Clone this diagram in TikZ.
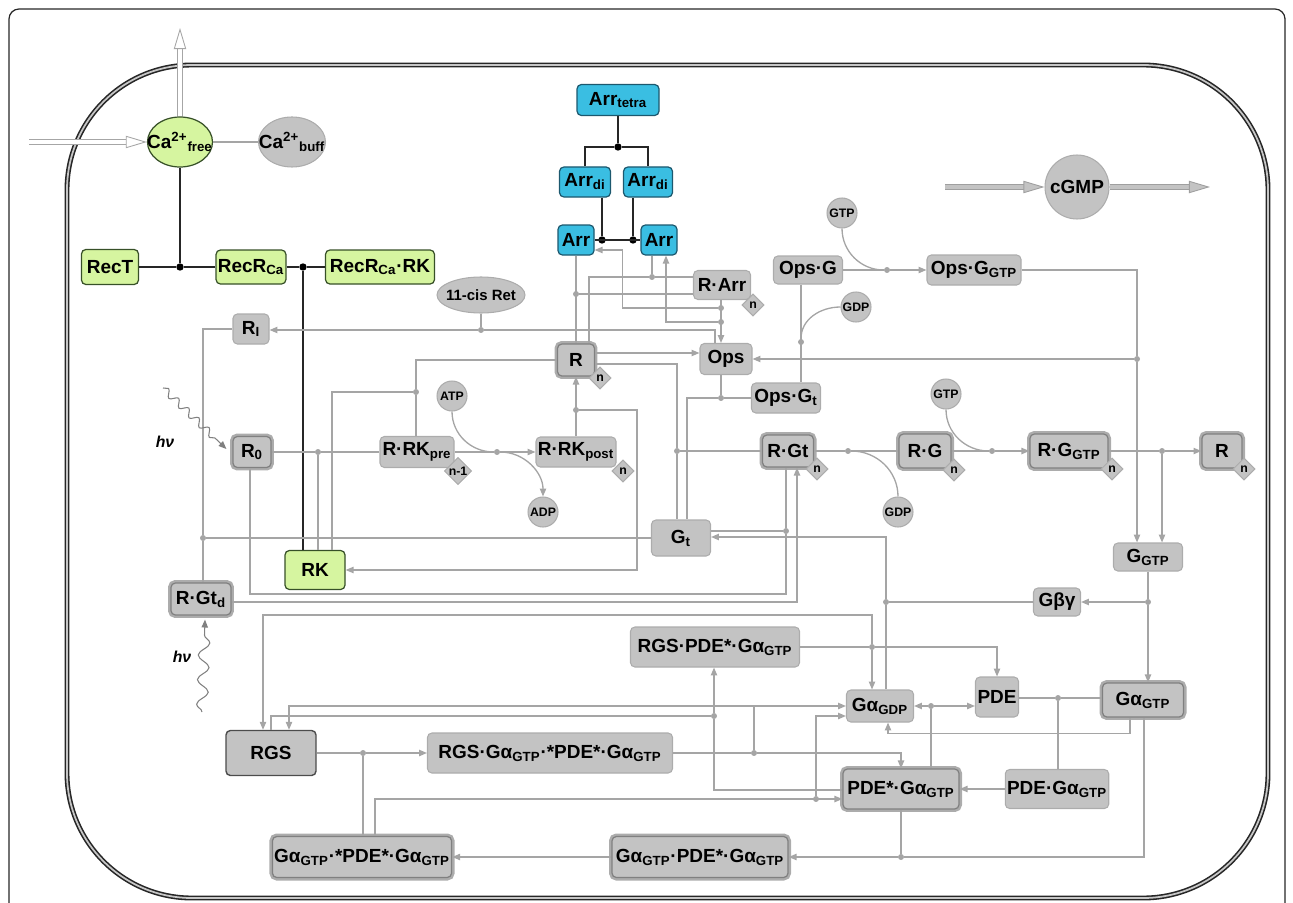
\documentclass[tikz,border=0pt]{standalone}
\usepackage{fontspec}
\setmainfont{Liberation Sans}
\usepackage{xcolor}
\usepackage{tikz}
\usetikzlibrary{shapes.geometric, arrows.meta, positioning, calc, decorations.pathmorphing}
\definecolor{recgreen}{RGB}{214,245,160}
\definecolor{recedge}{RGB}{55,80,40}
\definecolor{arrblue}{RGB}{58,190,226}
\definecolor{arredge}{RGB}{28,88,110}
\definecolor{boxgray}{RGB}{195,195,195}
\definecolor{edgegray}{RGB}{172,172,172}
\definecolor{rimgray}{RGB}{128,128,128}
\definecolor{linegray}{RGB}{165,165,165}
\tikzset{
    lbl/.style={font=\bfseries\fontsize{10.8}{12}\selectfont, text=black},
    wh/.style 2 args={minimum width=#1*0.02cm, minimum height=#2*0.02cm},
    gbox/.style={rectangle, rounded corners=2.5pt, fill=boxgray, draw=edgegray, line width=0.6pt, inner sep=1pt, lbl},
    dbox/.style={gbox, draw=rimgray, line width=0.7pt, preaction={draw=edgegray, line width=3.4pt}},
    tbox/.style={gbox, fill=recgreen, draw=recedge, line width=0.7pt},
    abox/.style={gbox, fill=arrblue, draw=arredge, line width=0.7pt},
    rgsbox/.style={gbox, draw=black!70, line width=0.8pt},
    tell/.style={ellipse, fill=recgreen, draw=recedge, line width=0.7pt, inner sep=0pt},
    gell/.style={ellipse, fill=boxgray, draw=edgegray, line width=0.6pt, inner sep=0pt},
    ball/.style={circle, fill=boxgray, draw=edgegray, line width=0.6pt, inner sep=0pt, minimum size=0.6cm, font=\bfseries\fontsize{7}{8}\selectfont},
    ndia/.style={diamond, fill=boxgray, draw=edgegray, line width=0.6pt, inner sep=0pt, minimum size=0.44cm, font=\bfseries\fontsize{7}{8}\selectfont},
    link/.style={draw=linegray, line width=0.75pt},
    arr/.style={link, -{Triangle[length=4.5pt, width=3.6pt]}},
    bline/.style={draw=black!85, line width=0.8pt},
    jdot/.style={circle, fill=linegray, inner sep=0pt, minimum size=3.4pt},
    bdot/.style={circle, fill=black, inner sep=0pt, minimum size=4.2pt},
    hollow/.style={draw=gray!70, line width=0.5pt, double=white, double distance=2.4pt, -{Triangle[open, length=12pt, width=7pt]}},
    fat/.style={draw=gray!75, line width=0.5pt, double=boxgray, double distance=2.4pt, -{Triangle[length=12pt, width=7pt, fill=boxgray]}},
    light/.style={draw=gray, line width=0.6pt, -{Triangle[length=4.5pt, width=3.6pt]}, decorate}
}

\begin{document}
\begin{tikzpicture}[x=0.02cm, y=-0.02cm]
    \useasboundingbox (0,0) rectangle (1293,902);

    % Frame and membrane
    \draw[black!85, line width=0.7pt, rounded corners=0.2cm] (9,910) -- (9,9) -- (1285,9) -- (1285,910);
    \draw[black!85, line width=0.9pt, double=gray!45, double distance=1pt, rounded corners=2.5cm] (67,65) rectangle (1268,898);

    % Calcium and recoverin
    \node[tell, wh={65}{50}, label={[lbl]center:Ca\textsuperscript{2+}\textsubscript{free}}] (caf) at (180,142) {};
    \node[gell, wh={67}{50}, label={[lbl]center:Ca\textsuperscript{2+}\textsubscript{buff}}] (cab) at (292,142) {};
    \coordinate (cain) at (29,142);
    \coordinate (caout) at (180,28);
    \node[tbox, wh={57}{35}] (rect) at (110,267) {RecT};
    \node[tbox, wh={69}{34}] (recr) at (251,267) {RecR\textsubscript{Ca}};
    \node[tbox, wh={109}{34}] (recrk) at (380,267) {RecR\textsubscript{Ca}·RK};
    \node[tbox, wh={60}{39}] (rk) at (315,570) {RK};
    \node[bdot] (cj1) at (180,267) {};
    \node[bdot] (cj2) at (303,267) {};

    % Arrestin
    \node[abox, wh={82}{31}] (arrt) at (618,100) {Arr\textsubscript{tetra}};
    \node[abox, wh={51}{30}] (ardl) at (585,182) {Arr\textsubscript{di}};
    \node[abox, wh={49}{30}] (ardr) at (648,182) {Arr\textsubscript{di}};
    \node[abox, wh={36}{30}] (arrL) at (576,240) {Arr};
    \node[abox, wh={36}{30}] (arrR) at (659,240) {Arr};
    \node[bdot] (bj0) at (618,147) {};
    \node[bdot] (bj1) at (602,240) {};
    \node[bdot] (bj2) at (633,240) {};

    % cGMP
    \node[ball, lbl, minimum size=1.28cm] (cgmp) at (1077,187) {cGMP};
    \coordinate (cgin) at (945,187);
    \coordinate (cgout) at (1210,187);

    % Opsin branch
    \node[gell, wh={88}{36}, label={[font=\bfseries\fontsize{8.5}{10}\selectfont]center:11-cis Ret}] (ret) at (481,295) {};
    \node[gbox, wh={57}{29}] (rarr) at (722,285) {R·Arr};
    \node[ndia] (rarrn) at (753,305) {n};
    \node[gbox, wh={69}{28}] (opsg) at (808,270) {Ops·G};
    \node[ball] (gtp1) at (842,213) {GTP};
    \node[ball] (gdp1) at (856,307) {GDP};
    \node[gbox, wh={94}{30}] (opsggtp) at (974,270) {Ops·G\textsubscript{GTP}};
    \node[gbox, wh={52}{31}] (ops) at (726,359) {Ops};
    \node[gbox, wh={69}{30}] (opsgt) at (786,398) {Ops·G\textsubscript{t}};

    % Rhodopsin states
    \node[gbox, wh={36}{30}] (ri) at (251,329) {R\textsubscript{I}};
    \node[dbox, wh={38}{31}] (r0) at (252,452) {R\textsubscript{0}};
    \node[gbox, wh={74}{31}] (rrkpre) at (417,452) {R·RK\textsubscript{pre}};
    \node[ndia, minimum size=0.54cm] (rrkpren) at (458,471) {n-1};
    \node[gbox, wh={80}{30}] (rrkpost) at (576,452) {R·RK\textsubscript{post}};
    \node[ndia] (rrkpostn) at (623,471) {n};
    \node[ball] (atp) at (452,396) {ATP};
    \node[ball] (adp) at (543,512) {ADP};
    \node[dbox, wh={37}{32}] (r) at (576,360) {R};
    \node[ndia] (rnn) at (600,378) {n};
    \node[gbox, wh={59}{36}] (gt) at (681,538) {G\textsubscript{t}};
    \node[dbox, wh={51}{32}] (rgt) at (788,451) {R·Gt};
    \node[ndia] (rgtn) at (817,469) {n};
    \node[dbox, wh={52}{34}] (rg) at (925,451) {R·G};
    \node[ndia] (rgn) at (954,470) {n};
    \node[ball] (gtp2) at (946,394) {GTP};
    \node[ball] (gdp2) at (898,512) {GDP};
    \node[dbox, wh={78}{34}] (rggtp) at (1069,451) {R·G\textsubscript{GTP}};
    \node[ndia] (rggtpn) at (1112,469) {n};
    \node[dbox, wh={40}{34}] (rn) at (1222,451) {R};
    \node[ndia] (rnn2) at (1244,469) {n};
    \node[gbox, wh={69}{28}] (ggtp) at (1148,557) {G\textsubscript{GTP}};
    \node[gbox, wh={47}{28}] (gbg) at (1057,602) {Gβγ};
    \node[dbox, wh={60}{32}] (rgtd) at (201,599) {R·Gt\textsubscript{d}};
    \node[font=\bfseries\itshape\fontsize{9}{10}\selectfont] (hv1) at (165,442) {hν};
    \node[font=\bfseries\itshape\fontsize{9}{10}\selectfont] (hv2) at (182,657) {hν};
    \coordinate (hv1a) at (163,388);
    \coordinate (hv2a) at (202,712);

    % Transducin / PDE / RGS
    \node[gbox, wh={67}{32}] (gagdp) at (880,706) {Gα\textsubscript{GDP}};
    \node[gbox, wh={43}{40}] (pde) at (997,697) {PDE};
    \node[dbox, wh={81}{34}] (gagtp) at (1143,700) {Gα\textsubscript{GTP}};
    \node[gbox, wh={103}{39}] (pdega) at (1057,789) {PDE·Gα\textsubscript{GTP}};
    \node[dbox, wh={116}{40}] (pdesga) at (901,789) {PDE*·Gα\textsubscript{GTP}};
    \node[dbox, wh={176}{41}] (gpg) at (700,857) {Gα\textsubscript{GTP}·PDE*·Gα\textsubscript{GTP}};
    \node[dbox, wh={176}{41}] (gspg) at (362,857) {Gα\textsubscript{GTP}·*PDE*·Gα\textsubscript{GTP}};
    \node[rgsbox, wh={90}{45}] (rgs) at (271,753) {RGS};
    \node[gbox, wh={245}{40}] (rgsg) at (550,753) {RGS·Gα\textsubscript{GTP}·*PDE*·Gα\textsubscript{GTP}};
    \node[gbox, wh={169}{40}] (rgsp) at (715,647) {RGS·PDE*·Gα\textsubscript{GTP}};

    % Junctions
    \node[jdot] (j1) at (887,270) {};
    \node[jdot] (j2) at (1137,359) {};
    \node[jdot] (j3) at (801,342) {};
    \node[jdot] (j4) at (721,398) {};
    \node[jdot] (j5) at (677,451) {};
    \node[jdot] (j6) at (721,308) {};
    \node[jdot] (j7) at (721,322) {};
    \node[jdot] (j8) at (652,277) {};
    \node[jdot] (j9) at (576,294) {};
    \node[jdot] (j10) at (481,330) {};
    \node[jdot] (j11) at (203,538) {};
    \node[jdot] (j12) at (318,452) {};
    \node[jdot] (j13) at (416,392) {};
    \node[jdot] (j14) at (497,452) {};
    \node[jdot] (j15) at (576,410) {};
    \node[jdot] (j16) at (786,531) {};
    \node[jdot] (j17) at (848,451) {};
    \node[jdot] (j18) at (992,451) {};
    \node[jdot] (j19) at (1162,451) {};
    \node[jdot] (j20) at (1148,602) {};
    \node[jdot] (j21) at (886,602) {};
    \node[jdot] (j22) at (872,647) {};
    \node[jdot] (j23) at (363,753) {};
    \node[jdot] (j24) at (816,799) {};
    \node[jdot] (j25) at (754,753) {};
    \node[jdot] (j26) at (714,716) {};
    \node[jdot] (j27) at (901,857) {};
    \node[jdot] (j28) at (1058,698) {};
    \node[jdot] (j29) at (931,706) {};

    % Calcium links
    \draw[hollow] (cain) -- (caf);
    \draw[hollow] (caf) -- (caout);
    \draw[link] (caf) -- (cab);
    \draw[bline] (caf) -- (cj1);
    \draw[bline] (rect) -- (cj1) -- (recr);
    \draw[bline] (recr) -- (cj2) -- (recrk);
    \draw[bline] (cj2) -- (cj2 |- rk.north);

    % Arrestin links
    \draw[bline] (arrt) -- (bj0);
    \draw[bline] (ardl.north) |- (bj0) -| (ardr.north);
    \draw[bline] (ardl.south -| bj1) -- (bj1);
    \draw[bline] (ardr.south -| bj2) -- (bj2);
    \draw[bline] (arrL) -- (arrR);

    % cGMP flux
    \draw[fat] (cgin) -- (cgmp);
    \draw[fat] (cgmp) -- (cgout);

    % Opsin links
    \draw[link] (opsg) -- (j1);
    \draw[arr] (j1) -- (opsggtp);
    \draw[link] (gtp1.south) to[out=-90, in=180] (j1);
    \draw[link] (opsggtp.east) -| (j2);
    \draw[arr] (j2) -- (ops);
    \draw[arr] (j2) -- (j2 |- ggtp.north);
    \draw[link] (opsg.south -| j3) -- (opsgt.north -| j3);
    \draw[link] (gdp1.west) to[out=180, in=90] (j3);
    \draw[link] (ops.south -| j4) -- (j4) -- (opsgt);
    \draw[link] (j4) -| ($(gt.north)+(6,0)$);
    \draw[arr] ($(r.east)+(0,-7)$) -- ($(ops.west)+(0,-6)$);
    \draw[link] ($(r.east)+(0,4)$) -| (j5) -- ($(gt.north)+(-4,0)$);
    \draw[link] (j5) -- (rgt);

    % Arrestin binding
    \draw[arr] (rarr.south -| j6) -- (ops.north -| j6);
    \draw[arr] (j6) -| ($(arrL.east)+(28,10)$) -- ($(arrL.east)+(0,10)$);
    \draw[arr] (j7) -| ($(arrR.south)+(7,0)$);
    \draw[link] ($(r.north)+(13,0)$) |- (j8) -- (rarr.west |- j8);
    \draw[link] (arrR.south -| j8) -- (j8);
    \draw[link] (arrL) -- (r);
    \draw[link] (j9) -- (rarr.west |- j9);

    % Regeneration
    \draw[arr] ($(ops.north)+(-11,0)$) |- (j10) -- (ri.east |- j10);
    \draw[link] (ret) -- (j10);
    \draw[link] (ri.west) -| (j11) -- (rgtd.north -| j11);
    \draw[link] (gt) -- (j11);

    % Light and phosphorylation
    \draw[light, decoration={snake, amplitude=2pt, segment length=8pt, post length=6pt}] (hv1a) -- ($(r0.west)+(-6,-3)$);
    \draw[light, decoration={snake, amplitude=3.2pt, segment length=14pt, post length=5pt}] (hv2a) -- ($(rgtd.south)+(4,4)$);
    \draw[link] (r0) -- (j12) -- (rrkpre);
    \draw[link] (j12) -- (j12 |- rk.north);
    \draw[link] ($(rk.north)+(17,0)$) |- (j13);
    \draw[link] (rrkpre.north -| j13) -- (j13) |- (r.west);
    \draw[link] (rrkpre) -- (j14);
    \draw[arr] (j14) -- (rrkpost);
    \draw[arr] (atp.south) to[out=-90, in=180] (j14) to[out=0, in=90] (adp.north);
    \draw[arr] (rrkpost) -- (r);
    \draw[arr] (j15) -- ++(61,0) |- (rk.east);

    % Transducin binding
    \draw[link] ($(r0.south)+(-2,0)$) -- ++(0,126) -| (j16) -- (j16 |- rgt.south);
    \draw[link] ($(gt.east)+(0,-7)$) -- (j16);
    \draw[arr] ($(rgtd.east)+(0,3)$) -| ($(rgt.south)+(9,0)$);
    \draw[link] (rgt) -- (j17) -- (rg);
    \draw[link] (j17) to[out=0, in=90] (gdp2.north);
    \draw[link] (rg) -- (j18);
    \draw[arr] (j18) -- (rggtp);
    \draw[link] (gtp2.south) to[out=-90, in=180] (j18);
    \draw[link] (rggtp) -- (j19);
    \draw[arr] (j19) -- (rn);
    \draw[arr] (j19) -- (j19 |- ggtp.north);
    \draw[link] (ggtp) -- (j20);
    \draw[arr] (j20) -- (j20 |- gagtp.north);
    \draw[arr] (j20) -- (gbg);
    \draw[link] (gbg) -- (j21);
    \draw[arr] ($(gagdp.north)+(6,0)$) -- (j21) |- ($(gt.east)+(0,-1)$);

    % PDE and RGS
    \draw[link] (rgsp) -- (j22);
    \draw[arr] (j22) -| (pde.north);
    \draw[arr] (j22) -- (j22 |- gagdp.north);
    \draw[arr] (j22) -- ++(0,-32) -| ($(rgs.north)+(-8,0)$);
    \draw[link] (rgs) -- (j23);
    \draw[arr] (j23) -- (rgsg);
    \draw[link] (j23) -- (j23 |- gspg.north);
    \draw[arr] ($(gspg.north)+(13,0)$) |- ($(pdesga.west)+(0,10)$);
    \draw[arr] (j24) |- ($(gagdp.west)+(0,10)$);
    \draw[link] (rgsg) -- (j25);
    \draw[arr] (j25) -| (pdesga.north);
    \draw[arr] (j25) |- (gagdp.west);
    \draw[arr] (j25 |- gagdp.west) -| ($(rgs.north)+(18,0)$);
    \draw[link] (rgs.north) |- (j26);
    \draw[arr] ($(pdesga.west)+(0,1)$) -| (j26) -- (j26 |- rgsp.south);
    \draw[link] (pdesga.south -| j27) -- (j27);
    \draw[arr] (j27) -- (gpg);
    \draw[link] (j27) -| ($(gagtp.south)+(1,0)$);
    \draw[arr] (gpg) -- (gspg);
    \draw[arr] (pdega) -- (pdesga);
    \draw[link] (pdega.north -| j28) -- (j28);
    \draw[link] (pde.east |- j28) -- (j28) -- (gagtp.west |- j28);
    \draw[arr] ($(gagtp.south)+(-13,0)$) -- ++(0,16) -| ($(gagdp.south)+(8,0)$);
    \draw[link] (pdesga.north -| j29) -- (j29);
    \draw[arr] (j29) -- (gagdp.east |- j29);
    \draw[arr] (j29) -- (pde.west |- j29);
\end{tikzpicture}
\end{document}
